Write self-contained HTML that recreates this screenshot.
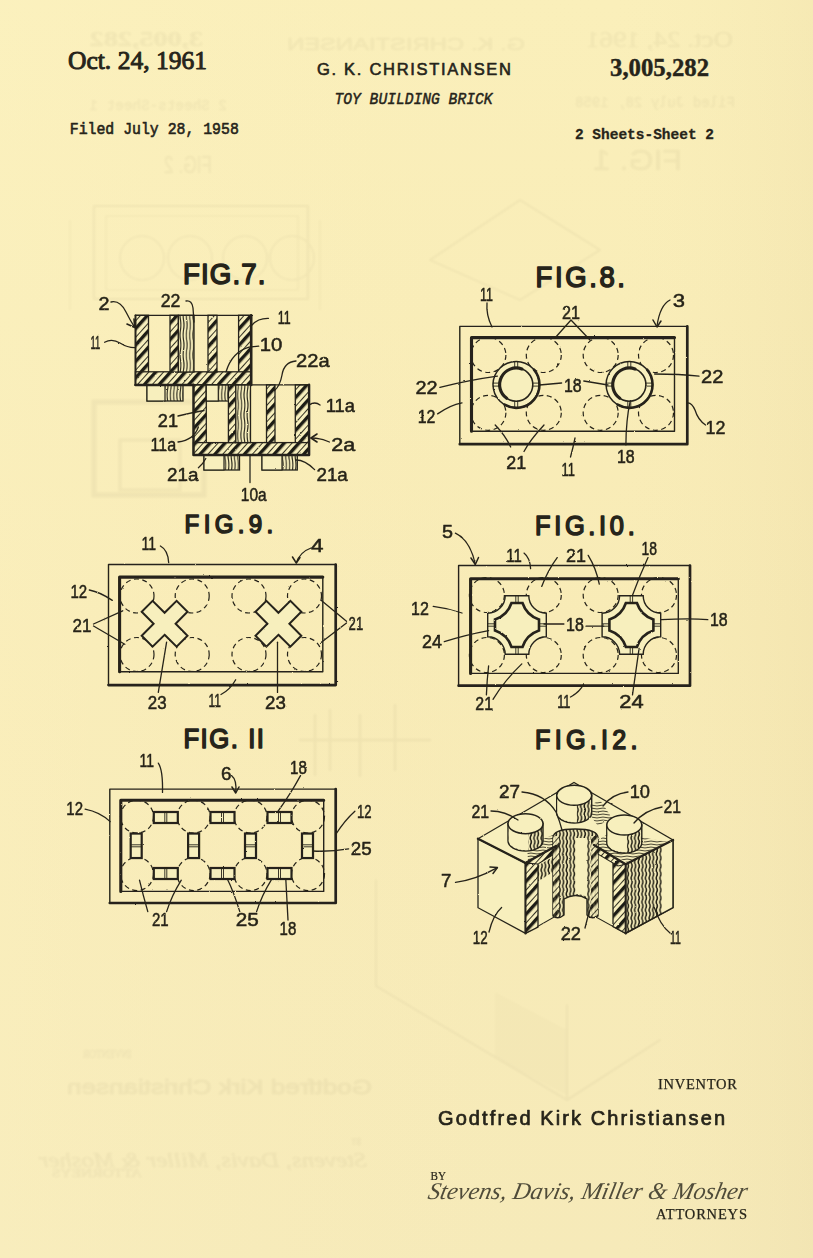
<!DOCTYPE html>
<html><head><meta charset="utf-8"><title>Toy Building Brick</title>
<style>html,body{margin:0;padding:0;background:#f8f0bd;overflow:hidden}svg{display:block}</style>
</head><body>
<svg width="813" height="1258" viewBox="0 0 813 1258">
<defs>
<linearGradient id="bg" x1="0" y1="0" x2="0" y2="1">
<stop offset="0" stop-color="#faefba"/>
<stop offset="0.5" stop-color="#f8ebb6"/>
<stop offset="1" stop-color="#f6eab9"/>
</linearGradient>
<linearGradient id="bgr" x1="0" y1="0" x2="1" y2="0">
<stop offset="0" stop-color="#fff6c8" stop-opacity="0.25"/>
<stop offset="0.75" stop-color="#f8ebb6" stop-opacity="0"/>
<stop offset="1" stop-color="#d8c088" stop-opacity="0.12"/>
</linearGradient>
<pattern id="hatch" width="11" height="11" patternUnits="userSpaceOnUse" patternTransform="rotate(42)">
<rect width="11" height="11" fill="#f7efbd"/>
<rect x="0" y="0" width="3.4" height="11" fill="#1e1c12"/>
<rect x="7" y="0" width="0.9" height="11" fill="#1e1c12"/>
</pattern>
<pattern id="wavy" width="3.2" height="20" patternUnits="userSpaceOnUse">
<rect width="3.2" height="20" fill="#f4ecba"/>
<path d="M1.2,0 Q2,5 1.2,10 Q0.4,15 1.2,20" stroke="#1e1c12" stroke-width="1" fill="none"/>
</pattern>
<pattern id="wavyd" width="3.6" height="8" patternUnits="userSpaceOnUse">
<rect width="3.6" height="8" fill="#f4ebb9"/>
<path d="M1.6,0 Q2.6,2 1.6,4 Q0.6,6 1.6,8" stroke="#1e1c12" stroke-width="1.5" fill="none"/>
</pattern>
<pattern id="hlines" width="12" height="3" patternUnits="userSpaceOnUse">
<rect width="12" height="3" fill="#f4ecba"/>
<path d="M0,1.5 Q3,0.6 6,1.5 Q9,2.4 12,1.5" stroke="#1e1c12" stroke-width="0.8" fill="none"/>
</pattern>
<filter id="gblur"><feGaussianBlur stdDeviation="0.8"/></filter>
<filter id="rough" x="-5%" y="-5%" width="110%" height="110%">
<feTurbulence type="fractalNoise" baseFrequency="0.35" numOctaves="2" seed="3" result="n"/>
<feDisplacementMap in="SourceGraphic" in2="n" scale="1.6" xChannelSelector="R" yChannelSelector="G"/>
</filter>
</defs>
<rect x="0" y="0" width="813" height="1258" fill="url(#bg)"/>
<rect x="0" y="0" width="813" height="1258" fill="url(#bgr)"/>
<text x="68" y="68.5" font-family="Liberation Serif" font-size="25" font-weight="normal" font-style="normal" fill="#26241a" text-anchor="start" textLength="139" lengthAdjust="spacingAndGlyphs" stroke="#26241a" stroke-width="0.9" stroke-linejoin="round" >Oct. 24, 1961</text>
<text x="317" y="75" font-family="Liberation Sans" font-size="16.5" font-weight="normal" font-style="normal" fill="#26241a" text-anchor="start" textLength="194" lengthAdjust="spacing" stroke="#26241a" stroke-width="0.6" stroke-linejoin="round" >G. K. CHRISTIANSEN</text>
<text x="610" y="75.6" font-family="Liberation Serif" font-size="25.5" font-weight="bold" font-style="normal" fill="#26241a" text-anchor="start" textLength="99" lengthAdjust="spacingAndGlyphs" stroke="#26241a" stroke-width="0.4" stroke-linejoin="round" >3,005,282</text>
<text x="334.5" y="104" font-family="Liberation Mono" font-size="16" font-weight="normal" font-style="italic" fill="#26241a" text-anchor="start" textLength="158" lengthAdjust="spacingAndGlyphs" stroke="#26241a" stroke-width="0.5" stroke-linejoin="round" >TOY BUILDING BRICK</text>
<text x="69.8" y="134.1" font-family="Liberation Mono" font-size="16" font-weight="normal" font-style="normal" fill="#26241a" text-anchor="start" textLength="169" lengthAdjust="spacingAndGlyphs" stroke="#26241a" stroke-width="0.6" stroke-linejoin="round" >Filed July 28, 1958</text>
<text x="575" y="138.6" font-family="Liberation Mono" font-size="15.5" font-weight="bold" font-style="normal" fill="#26241a" text-anchor="start" textLength="139" lengthAdjust="spacingAndGlyphs" stroke="#26241a" stroke-width="0.3" stroke-linejoin="round" >2 Sheets-Sheet 2</text>
<text x="183" y="284.1" font-family="Liberation Sans" font-size="27.7" font-weight="normal" font-style="normal" fill="#26241a" text-anchor="start" textLength="82.4" lengthAdjust="spacing" stroke="#26241a" stroke-width="1.5" stroke-linejoin="round" transform="translate(183,284.1) scale(1,1.087) translate(-183,-284.1)">FIG.7.</text>
<text x="535.5" y="287.5" font-family="Liberation Sans" font-size="27.5" font-weight="normal" font-style="normal" fill="#26241a" text-anchor="start" textLength="89.5" lengthAdjust="spacing" stroke="#26241a" stroke-width="1.5" stroke-linejoin="round" transform="translate(535.5,287.5) scale(1,1.087) translate(-535.5,-287.5)">FIG.8.</text>
<text x="184.6" y="533.5" font-family="Liberation Sans" font-size="24.1" font-weight="normal" font-style="normal" fill="#26241a" text-anchor="start" textLength="88.7" lengthAdjust="spacing" stroke="#26241a" stroke-width="1.5" stroke-linejoin="round" transform="translate(184.6,533.5) scale(1,1.087) translate(-184.6,-533.5)">FIG.9.</text>
<text x="535" y="535.4" font-family="Liberation Sans" font-size="25.4" font-weight="normal" font-style="normal" fill="#26241a" text-anchor="start" textLength="99.7" lengthAdjust="spacing" stroke="#26241a" stroke-width="1.5" stroke-linejoin="round" transform="translate(535,535.4) scale(1,1.087) translate(-535,-535.4)">FIG.I0.</text>
<text x="183.4" y="747.6" font-family="Liberation Sans" font-size="25.7" font-weight="normal" font-style="normal" fill="#26241a" text-anchor="start" textLength="80.6" lengthAdjust="spacing" stroke="#26241a" stroke-width="1.5" stroke-linejoin="round" transform="translate(183.4,747.6) scale(1,1.087) translate(-183.4,-747.6)">FIG. II</text>
<text x="535" y="749.3" font-family="Liberation Sans" font-size="25.2" font-weight="normal" font-style="normal" fill="#26241a" text-anchor="start" textLength="102.5" lengthAdjust="spacing" stroke="#26241a" stroke-width="1.5" stroke-linejoin="round" transform="translate(535,749.3) scale(1,1.087) translate(-535,-749.3)">FIG.I2.</text>
<g opacity="0.04" filter="url(#gblur)">
<g transform="translate(1319,0) scale(-1,1)">
<text x="586" y="47" font-family="Liberation Serif" font-size="24" font-weight="normal" font-style="normal" fill="#26241a" text-anchor="start" textLength="147" lengthAdjust="spacingAndGlyphs" stroke="#26241a" stroke-width="0.5" stroke-linejoin="round" >Oct. 24, 1961</text>
</g>
<g transform="translate(292.5,0) scale(-1,1)">
<text x="89.5" y="46" font-family="Liberation Serif" font-size="22" font-weight="bold" font-style="normal" fill="#26241a" text-anchor="start" textLength="113.5" lengthAdjust="spacingAndGlyphs" stroke="#26241a" stroke-width="0.5" stroke-linejoin="round" >3,005,282</text>
</g>
<g transform="translate(812,0) scale(-1,1)">
<text x="287" y="50" font-family="Liberation Sans" font-size="16" font-weight="normal" font-style="normal" fill="#26241a" text-anchor="start" textLength="238" lengthAdjust="spacingAndGlyphs" stroke="#26241a" stroke-width="0.5" stroke-linejoin="round" >G. K. CHRISTIANSEN</text>
</g>
<g transform="translate(1310,0) scale(-1,1)">
<text x="575" y="107" font-family="Liberation Mono" font-size="15" font-weight="normal" font-style="normal" fill="#26241a" text-anchor="start" textLength="160" lengthAdjust="spacingAndGlyphs" stroke="#26241a" stroke-width="0.5" stroke-linejoin="round" >Filed July 28, 1958</text>
</g>
<g transform="translate(316.5,0) scale(-1,1)">
<text x="89.5" y="110" font-family="Liberation Mono" font-size="14" font-weight="normal" font-style="normal" fill="#26241a" text-anchor="start" textLength="137.5" lengthAdjust="spacingAndGlyphs" stroke="#26241a" stroke-width="0.5" stroke-linejoin="round" >2 Sheets-Sheet 1</text>
</g>
<g transform="translate(376,0) scale(-1,1)">
<text x="164" y="173" font-family="Liberation Sans" font-size="24" font-weight="normal" font-style="normal" fill="#26241a" text-anchor="start" textLength="48" lengthAdjust="spacingAndGlyphs" stroke="#26241a" stroke-width="0.5" stroke-linejoin="round" >FIG. 2</text>
</g>
<g transform="translate(1275,0) scale(-1,1)">
<text x="593" y="170" font-family="Liberation Sans" font-size="30" font-weight="normal" font-style="normal" fill="#26241a" text-anchor="start" textLength="89" lengthAdjust="spacingAndGlyphs" stroke="#26241a" stroke-width="0.5" stroke-linejoin="round" >FIG. 1</text>
</g>
<g transform="translate(214.29999999999998,0) scale(-1,1)">
<text x="82.6" y="1058.4" font-family="Liberation Serif" font-size="13" font-weight="normal" font-style="normal" fill="#26241a" text-anchor="start" textLength="49.1" lengthAdjust="spacingAndGlyphs" stroke="#26241a" stroke-width="0.5" stroke-linejoin="round" >INVENTOR</text>
</g>
<g transform="translate(439,0) scale(-1,1)">
<text x="67" y="1094" font-family="Liberation Sans" font-size="20" font-weight="normal" font-style="normal" fill="#26241a" text-anchor="start" textLength="305" lengthAdjust="spacingAndGlyphs" stroke="#26241a" stroke-width="0.9" stroke-linejoin="round" >Godtfred Kirk Christiansen</text>
</g>
<g transform="translate(712,0) scale(-1,1)">
<text x="351" y="1144.7" font-family="Liberation Serif" font-size="11" font-weight="normal" font-style="normal" fill="#26241a" text-anchor="start" textLength="10" lengthAdjust="spacingAndGlyphs" stroke="#26241a" stroke-width="0.5" stroke-linejoin="round" >BY</text>
</g>
<g transform="translate(405.4,0) scale(-1,1)">
<text x="38.7" y="1167" font-family="Liberation Serif" font-size="22" font-weight="normal" font-style="italic" fill="#26241a" text-anchor="start" textLength="328.0" lengthAdjust="spacingAndGlyphs" stroke="#26241a" stroke-width="0.5" stroke-linejoin="round" >Stevens, Davis, Miller &amp; Mosher</text>
</g>
<g transform="translate(193.7,0) scale(-1,1)">
<text x="51.7" y="1177" font-family="Liberation Serif" font-size="12" font-weight="normal" font-style="normal" fill="#26241a" text-anchor="start" textLength="90.3" lengthAdjust="spacingAndGlyphs" stroke="#26241a" stroke-width="0.5" stroke-linejoin="round" >ATTORNEYS</text>
</g>
<path d="M94,206 L308,206 L308,299 L94,299 Z" stroke="#26241a" stroke-width="2.2" fill="none" stroke-linecap="round" stroke-linejoin="round" />
<path d="M106,216 L298,216 L298,290 L106,290 Z" stroke="#26241a" stroke-width="1.2" fill="none" stroke-linecap="round" stroke-linejoin="round" />
<circle cx="142" cy="258" r="22" fill="none" stroke="#26241a" stroke-width="1.6"/>
<circle cx="190" cy="258" r="22" fill="none" stroke="#26241a" stroke-width="1.6"/>
<circle cx="245" cy="258" r="22" fill="none" stroke="#26241a" stroke-width="1.6"/>
<circle cx="292" cy="258" r="22" fill="none" stroke="#26241a" stroke-width="1.6"/>
<path d="M70,220 L70,310 M320,220 L320,310" stroke="#26241a" stroke-width="1.2" fill="none" stroke-linecap="round" stroke-linejoin="round" />
<rect x="94" y="402" width="110" height="93" fill="none" stroke="#26241a" stroke-width="5"/>
<rect x="120" y="440" width="60" height="50" fill="none" stroke="#26241a" stroke-width="3"/>
<path d="M430,260 L520,200 L600,250 L520,300 Z" stroke="#26241a" stroke-width="1.8" fill="none" stroke-linecap="round" stroke-linejoin="round" />
<path d="M376,986 L567,1100 L660,1040 M567,1005 L567,1100 M376,880 L376,986" stroke="#26241a" stroke-width="1.8" fill="none" stroke-linecap="round" stroke-linejoin="round" />
<polygon points="495,992 567,1030 567,1095 495,1058" fill="#26241a" opacity="0.35"/>
<path d="M315,715 L315,775 M330,710 L330,770 M360,715 L360,776 M395,705 L395,770 M300,740 L430,740" stroke="#26241a" stroke-width="2.5" fill="none" stroke-linecap="round" stroke-linejoin="round" />
</g>
<g filter="url(#rough)">
<rect x="135.5" y="315.3" width="13.0" height="69.69999999999999" fill="url(#hatch)" stroke="#26241a" stroke-width="1.3"/>
<rect x="238.6" y="315.3" width="12.599999999999994" height="69.69999999999999" fill="url(#hatch)" stroke="#26241a" stroke-width="1.3"/>
<rect x="135.5" y="371.8" width="115.69999999999999" height="13.199999999999989" fill="url(#hatch)" stroke="#26241a" stroke-width="1.3"/>
<rect x="170" y="315.3" width="8.400000000000006" height="56.69999999999999" fill="url(#hatch)" stroke="#26241a" stroke-width="1.3"/>
<rect x="178.4" y="315.3" width="15.599999999999994" height="56.69999999999999" fill="url(#wavy)" stroke="#26241a" stroke-width="1.3"/>
<rect x="208" y="315.3" width="9" height="56.69999999999999" fill="url(#hatch)" stroke="#26241a" stroke-width="1.3"/>
<path d="M135.5,315.3 L251.2,315.3" stroke="#26241a" stroke-width="1.3" fill="none" stroke-linecap="round" stroke-linejoin="round" />
<rect x="147" y="385" width="36" height="16" fill="url(#wavy)" stroke="#26241a" stroke-width="1.3"/>
<rect x="147" y="385" width="18" height="16" fill="#f7efbd" stroke="#26241a" stroke-width="1.2"/>
<rect x="193.5" y="384.8" width="12.800000000000011" height="70.19999999999999" fill="url(#hatch)" stroke="#26241a" stroke-width="1.3"/>
<rect x="295.3" y="384.8" width="13.800000000000011" height="70.19999999999999" fill="url(#hatch)" stroke="#26241a" stroke-width="1.3"/>
<rect x="193.5" y="442.6" width="115.60000000000002" height="12.399999999999977" fill="url(#hatch)" stroke="#26241a" stroke-width="1.3"/>
<rect x="206.3" y="384.8" width="22.099999999999994" height="16.19999999999999" fill="url(#wavy)" stroke="#26241a" stroke-width="1.3"/>
<rect x="206.3" y="384.8" width="12" height="16.2" fill="#f7efbd" stroke="#26241a" stroke-width="1.2"/>
<rect x="228.4" y="384.8" width="7.400000000000006" height="57.80000000000001" fill="url(#hatch)" stroke="#26241a" stroke-width="1.3"/>
<rect x="235.8" y="384.8" width="14.699999999999989" height="57.80000000000001" fill="url(#wavy)" stroke="#26241a" stroke-width="1.3"/>
<rect x="266.5" y="384.8" width="8.5" height="57.80000000000001" fill="url(#hatch)" stroke="#26241a" stroke-width="1.3"/>
<path d="M193.5,384.8 L309.1,384.8" stroke="#26241a" stroke-width="1.3" fill="none" stroke-linecap="round" stroke-linejoin="round" />
<rect x="204" y="455" width="35.5" height="15" fill="url(#wavy)" stroke="#26241a" stroke-width="1.3"/>
<rect x="204" y="455" width="20" height="15" fill="#f7efbd" stroke="#26241a" stroke-width="1.2"/>
<rect x="262" y="455" width="35.30000000000001" height="15" fill="url(#wavy)" stroke="#26241a" stroke-width="1.3"/>
<rect x="262" y="455" width="20" height="15" fill="#f7efbd" stroke="#26241a" stroke-width="1.2"/>
<path d="M251.2,315.3 L251.2,385 M135.5,385 L193.5,385" stroke="#26241a" stroke-width="2.6" fill="none" stroke-linecap="round" stroke-linejoin="round" />
<path d="M309.1,384.8 L309.1,455 L193.5,455 L193.5,384.8" stroke="#26241a" stroke-width="2.4" fill="none" stroke-linecap="round" stroke-linejoin="round" />
<path d="M135.5,315.3 L135.5,385" stroke="#26241a" stroke-width="1.8" fill="none" stroke-linecap="round" stroke-linejoin="round" />
<text x="98.5" y="309.6" font-family="Liberation Sans" font-size="18" font-weight="normal" font-style="normal" fill="#26241a" text-anchor="start" textLength="11.0" lengthAdjust="spacingAndGlyphs" stroke="#26241a" stroke-width="0.5" stroke-linejoin="round" >2</text>
<path d="M111,302 Q120,300 126,312 Q130,320 134.7,327.4" stroke="#26241a" stroke-width="1.3" fill="none" stroke-linecap="round" stroke-linejoin="round" />
<path d="M127,324 L134.7,327.4 L134,319" stroke="#26241a" stroke-width="1.6" fill="none" stroke-linecap="round" stroke-linejoin="round" />
<text x="160.7" y="306.7" font-family="Liberation Sans" font-size="18" font-weight="normal" font-style="normal" fill="#26241a" text-anchor="start" textLength="19.7" lengthAdjust="spacingAndGlyphs" stroke="#26241a" stroke-width="0.5" stroke-linejoin="round" >22</text>
<path d="M186,301 Q192,300 193,308 L194,322" stroke="#26241a" stroke-width="1.3" fill="none" stroke-linecap="round" stroke-linejoin="round" />
<text x="90.5" y="349" font-family="Liberation Sans" font-size="18" font-weight="normal" font-style="normal" fill="#26241a" text-anchor="start" textLength="9.8" lengthAdjust="spacingAndGlyphs" stroke="#26241a" stroke-width="0.5" stroke-linejoin="round" >11</text>
<path d="M104.6,342.2 Q112,338 120,343 Q128,348 135.3,347.7" stroke="#26241a" stroke-width="1.3" fill="none" stroke-linecap="round" stroke-linejoin="round" />
<text x="277.7" y="323.8" font-family="Liberation Sans" font-size="18" font-weight="normal" font-style="normal" fill="#26241a" text-anchor="start" textLength="12.9" lengthAdjust="spacingAndGlyphs" stroke="#26241a" stroke-width="0.5" stroke-linejoin="round" >11</text>
<path d="M268.5,318.3 Q258,318 252,325" stroke="#26241a" stroke-width="1.3" fill="none" stroke-linecap="round" stroke-linejoin="round" />
<text x="259.7" y="351.2" font-family="Liberation Sans" font-size="18" font-weight="normal" font-style="normal" fill="#26241a" text-anchor="start" textLength="22.6" lengthAdjust="spacingAndGlyphs" stroke="#26241a" stroke-width="0.5" stroke-linejoin="round" >10</text>
<path d="M258.7,346.2 L249,347.2 Q232,352 226,372" stroke="#26241a" stroke-width="1.3" fill="none" stroke-linecap="round" stroke-linejoin="round" />
<text x="296" y="367" font-family="Liberation Sans" font-size="18" font-weight="normal" font-style="normal" fill="#26241a" text-anchor="start" textLength="33.6" lengthAdjust="spacingAndGlyphs" stroke="#26241a" stroke-width="0.5" stroke-linejoin="round" >22a</text>
<path d="M296,361 Q284,362 282,375 Q280,386 274.5,390.5" stroke="#26241a" stroke-width="1.3" fill="none" stroke-linecap="round" stroke-linejoin="round" />
<text x="325.7" y="412.4" font-family="Liberation Sans" font-size="18" font-weight="normal" font-style="normal" fill="#26241a" text-anchor="start" textLength="29.3" lengthAdjust="spacingAndGlyphs" stroke="#26241a" stroke-width="0.5" stroke-linejoin="round" >11a</text>
<path d="M320,405 Q315,401 309,405" stroke="#26241a" stroke-width="1.3" fill="none" stroke-linecap="round" stroke-linejoin="round" />
<text x="157.8" y="427" font-family="Liberation Sans" font-size="18" font-weight="normal" font-style="normal" fill="#26241a" text-anchor="start" textLength="20.2" lengthAdjust="spacingAndGlyphs" stroke="#26241a" stroke-width="0.5" stroke-linejoin="round" >21</text>
<path d="M178,416 Q190,413 204,410.5" stroke="#26241a" stroke-width="1.3" fill="none" stroke-linecap="round" stroke-linejoin="round" />
<text x="150.4" y="451" font-family="Liberation Sans" font-size="18" font-weight="normal" font-style="normal" fill="#26241a" text-anchor="start" textLength="25.8" lengthAdjust="spacingAndGlyphs" stroke="#26241a" stroke-width="0.5" stroke-linejoin="round" >11a</text>
<path d="M178,442 Q194,440 198.4,427" stroke="#26241a" stroke-width="1.3" fill="none" stroke-linecap="round" stroke-linejoin="round" />
<text x="331.2" y="451" font-family="Liberation Sans" font-size="18" font-weight="normal" font-style="normal" fill="#26241a" text-anchor="start" textLength="24.0" lengthAdjust="spacingAndGlyphs" stroke="#26241a" stroke-width="0.5" stroke-linejoin="round" >2a</text>
<path d="M329.4,442 Q320,438 311,438" stroke="#26241a" stroke-width="1.3" fill="none" stroke-linecap="round" stroke-linejoin="round" />
<path d="M317,434 L311,438 L317,442" stroke="#26241a" stroke-width="1.6" fill="none" stroke-linecap="round" stroke-linejoin="round" />
<text x="167" y="480.6" font-family="Liberation Sans" font-size="18" font-weight="normal" font-style="normal" fill="#26241a" text-anchor="start" textLength="31.4" lengthAdjust="spacingAndGlyphs" stroke="#26241a" stroke-width="0.5" stroke-linejoin="round" >21a</text>
<path d="M198.4,467.7 Q203,464 205.8,458.5" stroke="#26241a" stroke-width="1.3" fill="none" stroke-linecap="round" stroke-linejoin="round" />
<text x="240.8" y="501" font-family="Liberation Sans" font-size="18" font-weight="normal" font-style="normal" fill="#26241a" text-anchor="start" textLength="25.8" lengthAdjust="spacingAndGlyphs" stroke="#26241a" stroke-width="0.5" stroke-linejoin="round" >10a</text>
<path d="M250,482.5 L250,454.8" stroke="#26241a" stroke-width="1.3" fill="none" stroke-linecap="round" stroke-linejoin="round" />
<text x="316.5" y="480.6" font-family="Liberation Sans" font-size="18" font-weight="normal" font-style="normal" fill="#26241a" text-anchor="start" textLength="31.3" lengthAdjust="spacingAndGlyphs" stroke="#26241a" stroke-width="0.5" stroke-linejoin="round" >21a</text>
<path d="M314.6,469.6 Q305,460 296,460" stroke="#26241a" stroke-width="1.3" fill="none" stroke-linecap="round" stroke-linejoin="round" />
<circle cx="488.4" cy="355" r="17.5" fill="none" stroke="#26241a" stroke-width="1.2" stroke-dasharray="5 3.5"/>
<circle cx="488.4" cy="412.8" r="17.5" fill="none" stroke="#26241a" stroke-width="1.2" stroke-dasharray="5 3.5"/>
<circle cx="543.8" cy="355" r="17.5" fill="none" stroke="#26241a" stroke-width="1.2" stroke-dasharray="5 3.5"/>
<circle cx="543.8" cy="412.8" r="17.5" fill="none" stroke="#26241a" stroke-width="1.2" stroke-dasharray="5 3.5"/>
<circle cx="600.7" cy="355" r="17.5" fill="none" stroke="#26241a" stroke-width="1.2" stroke-dasharray="5 3.5"/>
<circle cx="600.7" cy="412.8" r="17.5" fill="none" stroke="#26241a" stroke-width="1.2" stroke-dasharray="5 3.5"/>
<circle cx="656" cy="355" r="17.5" fill="none" stroke="#26241a" stroke-width="1.2" stroke-dasharray="5 3.5"/>
<circle cx="656" cy="412.8" r="17.5" fill="none" stroke="#26241a" stroke-width="1.2" stroke-dasharray="5 3.5"/>
<path d="M459.8,444.2 L459.8,326.4 L687.3,326.4" stroke="#26241a" stroke-width="1.4" fill="none" stroke-linecap="round" stroke-linejoin="round" />
<path d="M687.3,326.4 L687.3,444.2 L459.8,444.2" stroke="#26241a" stroke-width="2.7" fill="none" stroke-linecap="round" stroke-linejoin="round" />
<path d="M471.5,431.2 L471.5,337.6 L674.5,337.6" stroke="#26241a" stroke-width="3.1" fill="none" stroke-linecap="round" stroke-linejoin="round" />
<path d="M674.5,337.6 L674.5,431.2 L471.5,431.2" stroke="#26241a" stroke-width="1.4" fill="none" stroke-linecap="round" stroke-linejoin="round" />
<circle cx="516.2" cy="384.6" r="23.2" fill="#f7efbd" stroke="#26241a" stroke-width="1.5"/>
<circle cx="516.2" cy="384.6" r="16.6" fill="#f7efbd" stroke="#26241a" stroke-width="1.6"/>
<path d="M506.7,398.2 A16.6,16.6 0 0 1 521.9,369.0" stroke="#26241a" stroke-width="3.2" fill="none" stroke-linecap="round" stroke-linejoin="round" />
<path d="M534.0,369.7 A23.2,23.2 0 0 1 504.6,404.7" stroke="#26241a" stroke-width="2.6" fill="none" stroke-linecap="round" stroke-linejoin="round" />
<path d="M532.8,383.1 L539.4,383.1" stroke="#26241a" stroke-width="0.9" fill="none" stroke-linecap="round" stroke-linejoin="round" />
<path d="M532.8,386.1 L539.4,386.1" stroke="#26241a" stroke-width="0.9" fill="none" stroke-linecap="round" stroke-linejoin="round" />
<path d="M517.7,401.2 L517.7,407.8" stroke="#26241a" stroke-width="0.9" fill="none" stroke-linecap="round" stroke-linejoin="round" />
<path d="M514.7,401.2 L514.7,407.8" stroke="#26241a" stroke-width="0.9" fill="none" stroke-linecap="round" stroke-linejoin="round" />
<path d="M499.6,386.1 L493.0,386.1" stroke="#26241a" stroke-width="0.9" fill="none" stroke-linecap="round" stroke-linejoin="round" />
<path d="M499.6,383.1 L493.0,383.1" stroke="#26241a" stroke-width="0.9" fill="none" stroke-linecap="round" stroke-linejoin="round" />
<path d="M514.7,368.0 L514.7,361.4" stroke="#26241a" stroke-width="0.9" fill="none" stroke-linecap="round" stroke-linejoin="round" />
<path d="M517.7,368.0 L517.7,361.4" stroke="#26241a" stroke-width="0.9" fill="none" stroke-linecap="round" stroke-linejoin="round" />
<circle cx="629.3" cy="384.6" r="23.2" fill="#f7efbd" stroke="#26241a" stroke-width="1.5"/>
<circle cx="629.3" cy="384.6" r="16.6" fill="#f7efbd" stroke="#26241a" stroke-width="1.6"/>
<path d="M619.8,398.2 A16.6,16.6 0 0 1 635.0,369.0" stroke="#26241a" stroke-width="3.2" fill="none" stroke-linecap="round" stroke-linejoin="round" />
<path d="M647.1,369.7 A23.2,23.2 0 0 1 617.7,404.7" stroke="#26241a" stroke-width="2.6" fill="none" stroke-linecap="round" stroke-linejoin="round" />
<path d="M645.9,383.1 L652.5,383.1" stroke="#26241a" stroke-width="0.9" fill="none" stroke-linecap="round" stroke-linejoin="round" />
<path d="M645.9,386.1 L652.5,386.1" stroke="#26241a" stroke-width="0.9" fill="none" stroke-linecap="round" stroke-linejoin="round" />
<path d="M630.8,401.2 L630.8,407.8" stroke="#26241a" stroke-width="0.9" fill="none" stroke-linecap="round" stroke-linejoin="round" />
<path d="M627.8,401.2 L627.8,407.8" stroke="#26241a" stroke-width="0.9" fill="none" stroke-linecap="round" stroke-linejoin="round" />
<path d="M612.7,386.1 L606.1,386.1" stroke="#26241a" stroke-width="0.9" fill="none" stroke-linecap="round" stroke-linejoin="round" />
<path d="M612.7,383.1 L606.1,383.1" stroke="#26241a" stroke-width="0.9" fill="none" stroke-linecap="round" stroke-linejoin="round" />
<path d="M627.8,368.0 L627.8,361.4" stroke="#26241a" stroke-width="0.9" fill="none" stroke-linecap="round" stroke-linejoin="round" />
<path d="M630.8,368.0 L630.8,361.4" stroke="#26241a" stroke-width="0.9" fill="none" stroke-linecap="round" stroke-linejoin="round" />
<text x="480" y="301" font-family="Liberation Sans" font-size="18" font-weight="normal" font-style="normal" fill="#26241a" text-anchor="start" textLength="13" lengthAdjust="spacingAndGlyphs" stroke="#26241a" stroke-width="0.5" stroke-linejoin="round" >11</text>
<path d="M487,303 Q486,315 492,327" stroke="#26241a" stroke-width="1.3" fill="none" stroke-linecap="round" stroke-linejoin="round" />
<text x="562" y="318.5" font-family="Liberation Sans" font-size="18" font-weight="normal" font-style="normal" fill="#26241a" text-anchor="start" textLength="18" lengthAdjust="spacingAndGlyphs" stroke="#26241a" stroke-width="0.5" stroke-linejoin="round" >21</text>
<path d="M571,320 L555,338 M571,320 L590,340" stroke="#26241a" stroke-width="1.3" fill="none" stroke-linecap="round" stroke-linejoin="round" />
<text x="672.7" y="306.7" font-family="Liberation Sans" font-size="18" font-weight="normal" font-style="normal" fill="#26241a" text-anchor="start" textLength="12.3" lengthAdjust="spacingAndGlyphs" stroke="#26241a" stroke-width="0.5" stroke-linejoin="round" >3</text>
<path d="M670,300 Q660,305 657,326" stroke="#26241a" stroke-width="1.3" fill="none" stroke-linecap="round" stroke-linejoin="round" />
<path d="M653,320 L657,327 L661,321" stroke="#26241a" stroke-width="1.5" fill="none" stroke-linecap="round" stroke-linejoin="round" />
<text x="415.5" y="394" font-family="Liberation Sans" font-size="18" font-weight="normal" font-style="normal" fill="#26241a" text-anchor="start" textLength="22.1" lengthAdjust="spacingAndGlyphs" stroke="#26241a" stroke-width="0.5" stroke-linejoin="round" >22</text>
<path d="M439.9,387.3 Q470,380 497.4,376.2" stroke="#26241a" stroke-width="1.3" fill="none" stroke-linecap="round" stroke-linejoin="round" />
<text x="563.9" y="391.7" font-family="Liberation Sans" font-size="18" font-weight="normal" font-style="normal" fill="#26241a" text-anchor="start" textLength="17.7" lengthAdjust="spacingAndGlyphs" stroke="#26241a" stroke-width="0.5" stroke-linejoin="round" >18</text>
<path d="M561.6,383 L539.5,385 M583.8,381 L608,385" stroke="#26241a" stroke-width="1.3" fill="none" stroke-linecap="round" stroke-linejoin="round" />
<text x="701" y="382.9" font-family="Liberation Sans" font-size="18" font-weight="normal" font-style="normal" fill="#26241a" text-anchor="start" textLength="22.3" lengthAdjust="spacingAndGlyphs" stroke="#26241a" stroke-width="0.5" stroke-linejoin="round" >22</text>
<path d="M699,376.2 Q680,374 654.6,374" stroke="#26241a" stroke-width="1.3" fill="none" stroke-linecap="round" stroke-linejoin="round" />
<text x="417.7" y="422.7" font-family="Liberation Sans" font-size="18" font-weight="normal" font-style="normal" fill="#26241a" text-anchor="start" textLength="17.7" lengthAdjust="spacingAndGlyphs" stroke="#26241a" stroke-width="0.5" stroke-linejoin="round" >12</text>
<path d="M437.6,413.9 Q450,405 462,402.8" stroke="#26241a" stroke-width="1.3" fill="none" stroke-linecap="round" stroke-linejoin="round" />
<text x="705.6" y="433.8" font-family="Liberation Sans" font-size="18" font-weight="normal" font-style="normal" fill="#26241a" text-anchor="start" textLength="19.9" lengthAdjust="spacingAndGlyphs" stroke="#26241a" stroke-width="0.5" stroke-linejoin="round" >12</text>
<path d="M705.6,425 Q698,420 695,410 Q692,403 687.9,402.8" stroke="#26241a" stroke-width="1.3" fill="none" stroke-linecap="round" stroke-linejoin="round" />
<text x="506.3" y="469.2" font-family="Liberation Sans" font-size="18" font-weight="normal" font-style="normal" fill="#26241a" text-anchor="start" textLength="19.9" lengthAdjust="spacingAndGlyphs" stroke="#26241a" stroke-width="0.5" stroke-linejoin="round" >21</text>
<path d="M510.7,447 Q505,435 495.2,425 M524,451.5 Q530,440 544,425" stroke="#26241a" stroke-width="1.3" fill="none" stroke-linecap="round" stroke-linejoin="round" />
<text x="561.6" y="475.9" font-family="Liberation Sans" font-size="18" font-weight="normal" font-style="normal" fill="#26241a" text-anchor="start" textLength="13.4" lengthAdjust="spacingAndGlyphs" stroke="#26241a" stroke-width="0.5" stroke-linejoin="round" >11</text>
<path d="M570.5,457 Q573,448 575,438" stroke="#26241a" stroke-width="1.3" fill="none" stroke-linecap="round" stroke-linejoin="round" />
<text x="617" y="462.6" font-family="Liberation Sans" font-size="18" font-weight="normal" font-style="normal" fill="#26241a" text-anchor="start" textLength="17.7" lengthAdjust="spacingAndGlyphs" stroke="#26241a" stroke-width="0.5" stroke-linejoin="round" >18</text>
<path d="M625.9,444.9 Q626,420 630.3,400.6" stroke="#26241a" stroke-width="1.3" fill="none" stroke-linecap="round" stroke-linejoin="round" />
<circle cx="137" cy="596" r="17" fill="none" stroke="#26241a" stroke-width="1.2" stroke-dasharray="5 3.5"/>
<circle cx="137" cy="654.5" r="17" fill="none" stroke="#26241a" stroke-width="1.2" stroke-dasharray="5 3.5"/>
<circle cx="192.2" cy="596" r="17" fill="none" stroke="#26241a" stroke-width="1.2" stroke-dasharray="5 3.5"/>
<circle cx="192.2" cy="654.5" r="17" fill="none" stroke="#26241a" stroke-width="1.2" stroke-dasharray="5 3.5"/>
<circle cx="249" cy="596" r="17" fill="none" stroke="#26241a" stroke-width="1.2" stroke-dasharray="5 3.5"/>
<circle cx="249" cy="654.5" r="17" fill="none" stroke="#26241a" stroke-width="1.2" stroke-dasharray="5 3.5"/>
<circle cx="304.5" cy="596" r="17" fill="none" stroke="#26241a" stroke-width="1.2" stroke-dasharray="5 3.5"/>
<circle cx="304.5" cy="654.5" r="17" fill="none" stroke="#26241a" stroke-width="1.2" stroke-dasharray="5 3.5"/>
<path d="M108.5,685.1 L108.5,564.5 L335.7,564.5" stroke="#26241a" stroke-width="1.4" fill="none" stroke-linecap="round" stroke-linejoin="round" />
<path d="M335.7,564.5 L335.7,685.1 L108.5,685.1" stroke="#26241a" stroke-width="2.7" fill="none" stroke-linecap="round" stroke-linejoin="round" />
<path d="M119.6,671.8 L119.6,577.1 L322.8,577.1" stroke="#26241a" stroke-width="3.1" fill="none" stroke-linecap="round" stroke-linejoin="round" />
<path d="M322.8,577.1 L322.8,671.8 L119.6,671.8" stroke="#26241a" stroke-width="1.4" fill="none" stroke-linecap="round" stroke-linejoin="round" />
<polygon points="164.6,634.8 176.6,646.7 187.5,635.8 175.6,623.8 187.5,611.8 176.6,600.9 164.6,612.8 152.6,600.9 141.7,611.8 153.6,623.8 141.7,635.8 152.6,646.7" fill="#f7efbd" stroke="#26241a" stroke-width="2.0" stroke-linejoin="miter"/>
<polygon points="278.4,634.8 290.4,646.7 301.3,635.8 289.4,623.8 301.3,611.8 290.4,600.9 278.4,612.8 266.4,600.9 255.5,611.8 267.4,623.8 255.5,635.8 266.4,646.7" fill="#f7efbd" stroke="#26241a" stroke-width="2.0" stroke-linejoin="miter"/>
<text x="141.6" y="550.2" font-family="Liberation Sans" font-size="18" font-weight="normal" font-style="normal" fill="#26241a" text-anchor="start" textLength="14.6" lengthAdjust="spacingAndGlyphs" stroke="#26241a" stroke-width="0.5" stroke-linejoin="round" >11</text>
<path d="M160.4,546 Q168,550 168.7,562.7" stroke="#26241a" stroke-width="1.3" fill="none" stroke-linecap="round" stroke-linejoin="round" />
<text x="311" y="552.3" font-family="Liberation Sans" font-size="18" font-weight="normal" font-style="normal" fill="#26241a" text-anchor="start" textLength="12.5" lengthAdjust="spacingAndGlyphs" stroke="#26241a" stroke-width="0.5" stroke-linejoin="round" >4</text>
<path d="M311,548 Q300,552 296.3,562.7" stroke="#26241a" stroke-width="1.3" fill="none" stroke-linecap="round" stroke-linejoin="round" />
<path d="M292.5,557 L296.3,563 L300,557.5" stroke="#26241a" stroke-width="1.5" fill="none" stroke-linecap="round" stroke-linejoin="round" />
<text x="70.5" y="598.3" font-family="Liberation Sans" font-size="18" font-weight="normal" font-style="normal" fill="#26241a" text-anchor="start" textLength="16.7" lengthAdjust="spacingAndGlyphs" stroke="#26241a" stroke-width="0.5" stroke-linejoin="round" >12</text>
<path d="M89.3,590 Q100,592 112.3,600.4" stroke="#26241a" stroke-width="1.3" fill="none" stroke-linecap="round" stroke-linejoin="round" />
<text x="72.5" y="631.7" font-family="Liberation Sans" font-size="18" font-weight="normal" font-style="normal" fill="#26241a" text-anchor="start" textLength="18.9" lengthAdjust="spacingAndGlyphs" stroke="#26241a" stroke-width="0.5" stroke-linejoin="round" >21</text>
<path d="M93.5,624 L122.7,610.8 M93.5,626 L124.8,644.3" stroke="#26241a" stroke-width="1.3" fill="none" stroke-linecap="round" stroke-linejoin="round" />
<text x="348.6" y="629.7" font-family="Liberation Sans" font-size="18" font-weight="normal" font-style="normal" fill="#26241a" text-anchor="start" textLength="14.6" lengthAdjust="spacingAndGlyphs" stroke="#26241a" stroke-width="0.5" stroke-linejoin="round" >21</text>
<path d="M346.5,621.3 L321.4,600.4 M346.5,623 L321.4,642.2" stroke="#26241a" stroke-width="1.3" fill="none" stroke-linecap="round" stroke-linejoin="round" />
<text x="147.8" y="709" font-family="Liberation Sans" font-size="18" font-weight="normal" font-style="normal" fill="#26241a" text-anchor="start" textLength="18.8" lengthAdjust="spacingAndGlyphs" stroke="#26241a" stroke-width="0.5" stroke-linejoin="round" >23</text>
<path d="M158.3,692.4 L166.6,642.2" stroke="#26241a" stroke-width="1.3" fill="none" stroke-linecap="round" stroke-linejoin="round" />
<text x="208.5" y="707" font-family="Liberation Sans" font-size="18" font-weight="normal" font-style="normal" fill="#26241a" text-anchor="start" textLength="12.5" lengthAdjust="spacingAndGlyphs" stroke="#26241a" stroke-width="0.5" stroke-linejoin="round" >11</text>
<path d="M221,694.5 Q230,690 235.7,679.8" stroke="#26241a" stroke-width="1.3" fill="none" stroke-linecap="round" stroke-linejoin="round" />
<text x="265" y="709" font-family="Liberation Sans" font-size="18" font-weight="normal" font-style="normal" fill="#26241a" text-anchor="start" textLength="20.8" lengthAdjust="spacingAndGlyphs" stroke="#26241a" stroke-width="0.5" stroke-linejoin="round" >23</text>
<path d="M277.5,692.4 L277.5,642.2" stroke="#26241a" stroke-width="1.3" fill="none" stroke-linecap="round" stroke-linejoin="round" />
<circle cx="486.9" cy="595" r="17.5" fill="none" stroke="#26241a" stroke-width="1.2" stroke-dasharray="5 3.5"/>
<circle cx="486.9" cy="655" r="17.5" fill="none" stroke="#26241a" stroke-width="1.2" stroke-dasharray="5 3.5"/>
<circle cx="543.8" cy="595" r="17.5" fill="none" stroke="#26241a" stroke-width="1.2" stroke-dasharray="5 3.5"/>
<circle cx="543.8" cy="655" r="17.5" fill="none" stroke="#26241a" stroke-width="1.2" stroke-dasharray="5 3.5"/>
<circle cx="600.7" cy="595" r="17.5" fill="none" stroke="#26241a" stroke-width="1.2" stroke-dasharray="5 3.5"/>
<circle cx="600.7" cy="655" r="17.5" fill="none" stroke="#26241a" stroke-width="1.2" stroke-dasharray="5 3.5"/>
<circle cx="659" cy="595" r="17.5" fill="none" stroke="#26241a" stroke-width="1.2" stroke-dasharray="5 3.5"/>
<circle cx="659" cy="655" r="17.5" fill="none" stroke="#26241a" stroke-width="1.2" stroke-dasharray="5 3.5"/>
<path d="M458.6,685.7 L458.6,565.5 L690,565.5" stroke="#26241a" stroke-width="1.4" fill="none" stroke-linecap="round" stroke-linejoin="round" />
<path d="M690,565.5 L690,685.7 L458.6,685.7" stroke="#26241a" stroke-width="2.7" fill="none" stroke-linecap="round" stroke-linejoin="round" />
<path d="M470.6,673.4 L470.6,578.7 L678.3,578.7" stroke="#26241a" stroke-width="3.1" fill="none" stroke-linecap="round" stroke-linejoin="round" />
<path d="M678.3,578.7 L678.3,673.4 L470.6,673.4" stroke="#26241a" stroke-width="1.4" fill="none" stroke-linecap="round" stroke-linejoin="round" />
<path d="M505.2,595.7 L528.8,595.7 A17.5,17.5 0 0 0 546.3,613.2 L546.3,636.8 A17.5,17.5 0 0 0 528.8,654.3 L505.2,654.3 A17.5,17.5 0 0 0 487.7,636.8 L487.7,613.2 A17.5,17.5 0 0 0 505.2,595.7 Z" fill="#f7efbd" stroke="#26241a" stroke-width="1.4"/>
<path d="M511.5,603 L522.5,603 A26,26 0 0 0 539,619.5 L539,630.5 A26,26 0 0 0 522.5,647 L511.5,647 A26,26 0 0 0 495,630.5 L495,619.5 A26,26 0 0 0 511.5,603 Z" fill="#f7efbd" stroke="#26241a" stroke-width="2.6"/>
<path d="M515.8,595.9 L515.8,602.9 M518.2,595.9 L518.2,602.9" stroke="#26241a" stroke-width="0.9" fill="none" stroke-linecap="round" stroke-linejoin="round" />
<path d="M515.8,647.1 L515.8,654.1 M518.2,647.1 L518.2,654.1" stroke="#26241a" stroke-width="0.9" fill="none" stroke-linecap="round" stroke-linejoin="round" />
<path d="M487.9,623.8 L494.9,623.8 M487.9,626.2 L494.9,626.2" stroke="#26241a" stroke-width="0.9" fill="none" stroke-linecap="round" stroke-linejoin="round" />
<path d="M539.1,623.8 L546.1,623.8 M539.1,626.2 L546.1,626.2" stroke="#26241a" stroke-width="0.9" fill="none" stroke-linecap="round" stroke-linejoin="round" />
<path d="M619.6,595.7 L643.1999999999999,595.7 A17.5,17.5 0 0 0 660.6999999999999,613.2 L660.6999999999999,636.8 A17.5,17.5 0 0 0 643.1999999999999,654.3 L619.6,654.3 A17.5,17.5 0 0 0 602.1,636.8 L602.1,613.2 A17.5,17.5 0 0 0 619.6,595.7 Z" fill="#f7efbd" stroke="#26241a" stroke-width="1.4"/>
<path d="M625.9,603 L636.9,603 A26,26 0 0 0 653.4,619.5 L653.4,630.5 A26,26 0 0 0 636.9,647 L625.9,647 A26,26 0 0 0 609.4,630.5 L609.4,619.5 A26,26 0 0 0 625.9,603 Z" fill="#f7efbd" stroke="#26241a" stroke-width="2.6"/>
<path d="M630.1999999999999,595.9 L630.1999999999999,602.9 M632.6,595.9 L632.6,602.9" stroke="#26241a" stroke-width="0.9" fill="none" stroke-linecap="round" stroke-linejoin="round" />
<path d="M630.1999999999999,647.1 L630.1999999999999,654.1 M632.6,647.1 L632.6,654.1" stroke="#26241a" stroke-width="0.9" fill="none" stroke-linecap="round" stroke-linejoin="round" />
<path d="M602.3,623.8 L609.3,623.8 M602.3,626.2 L609.3,626.2" stroke="#26241a" stroke-width="0.9" fill="none" stroke-linecap="round" stroke-linejoin="round" />
<path d="M653.5,623.8 L660.5,623.8 M653.5,626.2 L660.5,626.2" stroke="#26241a" stroke-width="0.9" fill="none" stroke-linecap="round" stroke-linejoin="round" />
<text x="442" y="537.6" font-family="Liberation Sans" font-size="18" font-weight="normal" font-style="normal" fill="#26241a" text-anchor="start" textLength="11" lengthAdjust="spacingAndGlyphs" stroke="#26241a" stroke-width="0.5" stroke-linejoin="round" >5</text>
<path d="M455.4,533.2 Q470,540 475.3,564.2" stroke="#26241a" stroke-width="1.3" fill="none" stroke-linecap="round" stroke-linejoin="round" />
<path d="M471,558 L475.3,564.5 L478.5,557.5" stroke="#26241a" stroke-width="1.5" fill="none" stroke-linecap="round" stroke-linejoin="round" />
<text x="506.3" y="562" font-family="Liberation Sans" font-size="18" font-weight="normal" font-style="normal" fill="#26241a" text-anchor="start" textLength="15.5" lengthAdjust="spacingAndGlyphs" stroke="#26241a" stroke-width="0.5" stroke-linejoin="round" >11</text>
<path d="M524,553.1 Q530,558 530.6,568.6" stroke="#26241a" stroke-width="1.3" fill="none" stroke-linecap="round" stroke-linejoin="round" />
<text x="566" y="562" font-family="Liberation Sans" font-size="18" font-weight="normal" font-style="normal" fill="#26241a" text-anchor="start" textLength="20" lengthAdjust="spacingAndGlyphs" stroke="#26241a" stroke-width="0.5" stroke-linejoin="round" >21</text>
<path d="M557.2,557.6 Q548,570 541.7,586.4 M588.2,555.4 Q596,568 599.3,584.1" stroke="#26241a" stroke-width="1.3" fill="none" stroke-linecap="round" stroke-linejoin="round" />
<text x="641.4" y="555.4" font-family="Liberation Sans" font-size="18" font-weight="normal" font-style="normal" fill="#26241a" text-anchor="start" textLength="15.5" lengthAdjust="spacingAndGlyphs" stroke="#26241a" stroke-width="0.5" stroke-linejoin="round" >18</text>
<path d="M648,557.6 Q640,575 632.5,595.2" stroke="#26241a" stroke-width="1.3" fill="none" stroke-linecap="round" stroke-linejoin="round" />
<text x="411" y="615.1" font-family="Liberation Sans" font-size="18" font-weight="normal" font-style="normal" fill="#26241a" text-anchor="start" textLength="17.8" lengthAdjust="spacingAndGlyphs" stroke="#26241a" stroke-width="0.5" stroke-linejoin="round" >12</text>
<path d="M433.2,606.3 Q448,608 462,613" stroke="#26241a" stroke-width="1.3" fill="none" stroke-linecap="round" stroke-linejoin="round" />
<text x="566" y="630.6" font-family="Liberation Sans" font-size="18" font-weight="normal" font-style="normal" fill="#26241a" text-anchor="start" textLength="17.8" lengthAdjust="spacingAndGlyphs" stroke="#26241a" stroke-width="0.5" stroke-linejoin="round" >18</text>
<path d="M563.9,624 L544,624 M586,626.2 L603.7,626.2" stroke="#26241a" stroke-width="1.3" fill="none" stroke-linecap="round" stroke-linejoin="round" />
<text x="710" y="626.2" font-family="Liberation Sans" font-size="18" font-weight="normal" font-style="normal" fill="#26241a" text-anchor="start" textLength="17.7" lengthAdjust="spacingAndGlyphs" stroke="#26241a" stroke-width="0.5" stroke-linejoin="round" >18</text>
<path d="M707.8,619.6 Q690,618 661.3,619.6" stroke="#26241a" stroke-width="1.3" fill="none" stroke-linecap="round" stroke-linejoin="round" />
<text x="422" y="648.4" font-family="Liberation Sans" font-size="18" font-weight="normal" font-style="normal" fill="#26241a" text-anchor="start" textLength="20" lengthAdjust="spacingAndGlyphs" stroke="#26241a" stroke-width="0.5" stroke-linejoin="round" >24</text>
<path d="M444.3,641.7 Q465,635 488.6,630.6" stroke="#26241a" stroke-width="1.3" fill="none" stroke-linecap="round" stroke-linejoin="round" />
<text x="475.3" y="710.4" font-family="Liberation Sans" font-size="18" font-weight="normal" font-style="normal" fill="#26241a" text-anchor="start" textLength="17.7" lengthAdjust="spacingAndGlyphs" stroke="#26241a" stroke-width="0.5" stroke-linejoin="round" >21</text>
<path d="M486.4,694.9 Q487,680 488.6,666 M493,699.3 Q505,680 521.8,663.9" stroke="#26241a" stroke-width="1.3" fill="none" stroke-linecap="round" stroke-linejoin="round" />
<text x="557.2" y="708.1" font-family="Liberation Sans" font-size="18" font-weight="normal" font-style="normal" fill="#26241a" text-anchor="start" textLength="13.3" lengthAdjust="spacingAndGlyphs" stroke="#26241a" stroke-width="0.5" stroke-linejoin="round" >11</text>
<path d="M570.5,697 Q580,692 583.8,683.8" stroke="#26241a" stroke-width="1.3" fill="none" stroke-linecap="round" stroke-linejoin="round" />
<text x="619.2" y="708.1" font-family="Liberation Sans" font-size="18" font-weight="normal" font-style="normal" fill="#26241a" text-anchor="start" textLength="24.4" lengthAdjust="spacingAndGlyphs" stroke="#26241a" stroke-width="0.5" stroke-linejoin="round" >24</text>
<path d="M632.5,694.9 Q636,670 639.1,648.4" stroke="#26241a" stroke-width="1.3" fill="none" stroke-linecap="round" stroke-linejoin="round" />
<circle cx="137" cy="816.6" r="16.5" fill="none" stroke="#26241a" stroke-width="1.2" stroke-dasharray="5 3.5"/>
<circle cx="137" cy="874" r="16.5" fill="none" stroke="#26241a" stroke-width="1.2" stroke-dasharray="5 3.5"/>
<circle cx="193.6" cy="816.6" r="16.5" fill="none" stroke="#26241a" stroke-width="1.2" stroke-dasharray="5 3.5"/>
<circle cx="193.6" cy="874" r="16.5" fill="none" stroke="#26241a" stroke-width="1.2" stroke-dasharray="5 3.5"/>
<circle cx="250.5" cy="816.6" r="16.5" fill="none" stroke="#26241a" stroke-width="1.2" stroke-dasharray="5 3.5"/>
<circle cx="250.5" cy="874" r="16.5" fill="none" stroke="#26241a" stroke-width="1.2" stroke-dasharray="5 3.5"/>
<circle cx="308" cy="816.6" r="16.5" fill="none" stroke="#26241a" stroke-width="1.2" stroke-dasharray="5 3.5"/>
<circle cx="308" cy="874" r="16.5" fill="none" stroke="#26241a" stroke-width="1.2" stroke-dasharray="5 3.5"/>
<path d="M109.8,903 L109.8,789.1 L335.7,789.1" stroke="#26241a" stroke-width="1.4" fill="none" stroke-linecap="round" stroke-linejoin="round" />
<path d="M335.7,789.1 L335.7,903 L109.8,903" stroke="#26241a" stroke-width="2.7" fill="none" stroke-linecap="round" stroke-linejoin="round" />
<path d="M120.8,891.4 L120.8,800.2 L323.7,800.2" stroke="#26241a" stroke-width="3.1" fill="none" stroke-linecap="round" stroke-linejoin="round" />
<path d="M323.7,800.2 L323.7,891.4 L120.8,891.4" stroke="#26241a" stroke-width="1.4" fill="none" stroke-linecap="round" stroke-linejoin="round" />
<rect x="153.8" y="812.0" width="24" height="11" fill="#f7efbd" stroke="#26241a" stroke-width="2.2"/>
<path d="M164.8,812.0 L164.8,823.0 M166.8,812.0 L166.8,823.0" stroke="#26241a" stroke-width="0.9" fill="none" stroke-linecap="round" stroke-linejoin="round" />
<rect x="153.8" y="868.0" width="24" height="11" fill="#f7efbd" stroke="#26241a" stroke-width="2.2"/>
<path d="M164.8,868.0 L164.8,879.0 M166.8,868.0 L166.8,879.0" stroke="#26241a" stroke-width="0.9" fill="none" stroke-linecap="round" stroke-linejoin="round" />
<rect x="210.5" y="812.0" width="24" height="11" fill="#f7efbd" stroke="#26241a" stroke-width="2.2"/>
<path d="M221.5,812.0 L221.5,823.0 M223.5,812.0 L223.5,823.0" stroke="#26241a" stroke-width="0.9" fill="none" stroke-linecap="round" stroke-linejoin="round" />
<rect x="210.5" y="868.0" width="24" height="11" fill="#f7efbd" stroke="#26241a" stroke-width="2.2"/>
<path d="M221.5,868.0 L221.5,879.0 M223.5,868.0 L223.5,879.0" stroke="#26241a" stroke-width="0.9" fill="none" stroke-linecap="round" stroke-linejoin="round" />
<rect x="267.5" y="812.0" width="24" height="11" fill="#f7efbd" stroke="#26241a" stroke-width="2.2"/>
<path d="M278.5,812.0 L278.5,823.0 M280.5,812.0 L280.5,823.0" stroke="#26241a" stroke-width="0.9" fill="none" stroke-linecap="round" stroke-linejoin="round" />
<rect x="267.5" y="868.0" width="24" height="11" fill="#f7efbd" stroke="#26241a" stroke-width="2.2"/>
<path d="M278.5,868.0 L278.5,879.0 M280.5,868.0 L280.5,879.0" stroke="#26241a" stroke-width="0.9" fill="none" stroke-linecap="round" stroke-linejoin="round" />
<rect x="130.7" y="833.55" width="11" height="24.5" fill="#f7efbd" stroke="#26241a" stroke-width="2.2"/>
<path d="M130.7,844.8 L141.7,844.8 M130.7,846.8 L141.7,846.8" stroke="#26241a" stroke-width="0.9" fill="none" stroke-linecap="round" stroke-linejoin="round" />
<rect x="188.1" y="833.55" width="11" height="24.5" fill="#f7efbd" stroke="#26241a" stroke-width="2.2"/>
<path d="M188.1,844.8 L199.1,844.8 M188.1,846.8 L199.1,846.8" stroke="#26241a" stroke-width="0.9" fill="none" stroke-linecap="round" stroke-linejoin="round" />
<rect x="245.0" y="833.55" width="11" height="24.5" fill="#f7efbd" stroke="#26241a" stroke-width="2.2"/>
<path d="M245.0,844.8 L256.0,844.8 M245.0,846.8 L256.0,846.8" stroke="#26241a" stroke-width="0.9" fill="none" stroke-linecap="round" stroke-linejoin="round" />
<rect x="302.0" y="833.55" width="11" height="24.5" fill="#f7efbd" stroke="#26241a" stroke-width="2.2"/>
<path d="M302.0,844.8 L313.0,844.8 M302.0,846.8 L313.0,846.8" stroke="#26241a" stroke-width="0.9" fill="none" stroke-linecap="round" stroke-linejoin="round" />
<text x="139.5" y="767.3" font-family="Liberation Sans" font-size="18" font-weight="normal" font-style="normal" fill="#26241a" text-anchor="start" textLength="14.5" lengthAdjust="spacingAndGlyphs" stroke="#26241a" stroke-width="0.5" stroke-linejoin="round" >11</text>
<path d="M158.3,763.1 Q163,770 162.5,792.4" stroke="#26241a" stroke-width="1.3" fill="none" stroke-linecap="round" stroke-linejoin="round" />
<text x="221" y="779.8" font-family="Liberation Sans" font-size="18" font-weight="normal" font-style="normal" fill="#26241a" text-anchor="start" textLength="10.5" lengthAdjust="spacingAndGlyphs" stroke="#26241a" stroke-width="0.5" stroke-linejoin="round" >6</text>
<path d="M231.5,775.6 Q237,780 235.7,792.4" stroke="#26241a" stroke-width="1.3" fill="none" stroke-linecap="round" stroke-linejoin="round" />
<path d="M232,787 L235.7,793 L239,787" stroke="#26241a" stroke-width="1.5" fill="none" stroke-linecap="round" stroke-linejoin="round" />
<text x="290" y="773.5" font-family="Liberation Sans" font-size="18" font-weight="normal" font-style="normal" fill="#26241a" text-anchor="start" textLength="16.8" lengthAdjust="spacingAndGlyphs" stroke="#26241a" stroke-width="0.5" stroke-linejoin="round" >18</text>
<path d="M300.5,775.6 Q290,795 277.5,812" stroke="#26241a" stroke-width="1.3" fill="none" stroke-linecap="round" stroke-linejoin="round" />
<text x="66.3" y="815.4" font-family="Liberation Sans" font-size="18" font-weight="normal" font-style="normal" fill="#26241a" text-anchor="start" textLength="16.7" lengthAdjust="spacingAndGlyphs" stroke="#26241a" stroke-width="0.5" stroke-linejoin="round" >12</text>
<path d="M85.1,809.1 Q100,812 110.2,821.6" stroke="#26241a" stroke-width="1.3" fill="none" stroke-linecap="round" stroke-linejoin="round" />
<text x="357" y="817.5" font-family="Liberation Sans" font-size="18" font-weight="normal" font-style="normal" fill="#26241a" text-anchor="start" textLength="14.6" lengthAdjust="spacingAndGlyphs" stroke="#26241a" stroke-width="0.5" stroke-linejoin="round" >12</text>
<path d="M354.9,811.2 Q345,820 336,834" stroke="#26241a" stroke-width="1.3" fill="none" stroke-linecap="round" stroke-linejoin="round" />
<text x="350.7" y="855" font-family="Liberation Sans" font-size="18" font-weight="normal" font-style="normal" fill="#26241a" text-anchor="start" textLength="20.9" lengthAdjust="spacingAndGlyphs" stroke="#26241a" stroke-width="0.5" stroke-linejoin="round" >25</text>
<path d="M348.6,848.8 Q330,852 313,851" stroke="#26241a" stroke-width="1.3" fill="none" stroke-linecap="round" stroke-linejoin="round" />
<text x="152" y="926.2" font-family="Liberation Sans" font-size="18" font-weight="normal" font-style="normal" fill="#26241a" text-anchor="start" textLength="16.7" lengthAdjust="spacingAndGlyphs" stroke="#26241a" stroke-width="0.5" stroke-linejoin="round" >21</text>
<path d="M147.8,911.6 Q143,895 139.5,880.2 M166.6,911.6 Q172,895 181.3,880.2" stroke="#26241a" stroke-width="1.3" fill="none" stroke-linecap="round" stroke-linejoin="round" />
<text x="235.7" y="926.2" font-family="Liberation Sans" font-size="18" font-weight="normal" font-style="normal" fill="#26241a" text-anchor="start" textLength="23.0" lengthAdjust="spacingAndGlyphs" stroke="#26241a" stroke-width="0.5" stroke-linejoin="round" >25</text>
<path d="M239.8,911.6 Q233,890 227.3,879 M256.6,911.6 Q262,895 271.2,880.2" stroke="#26241a" stroke-width="1.3" fill="none" stroke-linecap="round" stroke-linejoin="round" />
<text x="279.6" y="934.6" font-family="Liberation Sans" font-size="18" font-weight="normal" font-style="normal" fill="#26241a" text-anchor="start" textLength="16.7" lengthAdjust="spacingAndGlyphs" stroke="#26241a" stroke-width="0.5" stroke-linejoin="round" >18</text>
<path d="M288,920 Q287,900 285.8,879" stroke="#26241a" stroke-width="1.3" fill="none" stroke-linecap="round" stroke-linejoin="round" />
<polygon points="478,838.7 525.5,863 525.5,933.4 478,907.7" fill="#f7efbd" stroke="#26241a" stroke-width="1.3"/>
<polygon points="625.6,864.3 673,840 673,907.7 625.6,933.4" fill="url(#wavyd)" stroke="#26241a" stroke-width="1.3"/>
<polygon points="662,845.5 673,840 673,907.7 662,913.5" fill="#f7efbd" stroke="none"/>
<path d="M673,840 L673,907.7 L625.6,933.4" stroke="#26241a" stroke-width="1.5" fill="none" stroke-linecap="round" stroke-linejoin="round" />
<polygon points="478,838.7 574,782.5 673,840 625.6,864.3 575,836 525.5,863" fill="#f7efbd" stroke="#26241a" stroke-width="1.2"/>
<polygon points="588,845 612,832 668,842 627,862" fill="url(#hlines)"/>
<polygon points="527,845 553,835 560,842 556,846 528,861" fill="url(#hlines)"/>
<polygon points="585,808 600,800 612,818 598,826" fill="url(#hlines)"/>
<polygon points="525.5,863 556,846 556,916 525.5,933.4" fill="#f7efbd" stroke="#26241a" stroke-width="1.1"/>
<polygon points="537,866 553,857 553,872 537,882" fill="url(#wavyd)"/>
<polygon points="525.5,863 538,856 538,927 525.5,933.4" fill="url(#hatch)" stroke="#26241a" stroke-width="1.3"/>
<polygon points="525.5,863 556,846 556,853 538,864" fill="url(#hatch)" stroke="#26241a" stroke-width="1.1"/>
<polygon points="594,845 625.6,864.3 625.6,933.4 594,916" fill="#f7efbd" stroke="#26241a" stroke-width="1.1"/>
<polygon points="613,857 625.6,864.3 625.6,933.4 613,926.5" fill="url(#hatch)" stroke="#26241a" stroke-width="1.3"/>
<polygon points="594,845 625.6,864.3 618,866 596,853" fill="url(#hatch)" stroke="#26241a" stroke-width="1.1"/>
<path d="M553,916 L553,838 Q553,829 575,829 Q598,829 598,838 L598,916 Q592,920 587,915 L587,899 Q576,892 564,899 L564,915 Q558,920 553,916 Z" fill="url(#wavyd)" stroke="#26241a" stroke-width="1.4"/>
<path d="M576,838 L587,838 L587,897 Q582,894 576,894 Z" fill="#f7efbd" stroke="none"/>
<rect x="553" y="836" width="6" height="80" fill="url(#hatch)" opacity="0.85"/>
<rect x="591" y="836" width="7" height="80" fill="url(#hatch)" opacity="0.85"/>
<path d="M556.7,795.3 L556.7,813 A17.5,10 0 0 0 591.7,813 L591.7,795.3 Z" fill="url(#wavyd)" stroke="#26241a" stroke-width="1.4"/>
<path d="M557.4000000000001,795.3 L557.4000000000001,813 A17.5,10 0 0 0 576.825,822.3 L576.825,805.3 Z" fill="#f7efbd" stroke="none"/>
<ellipse cx="574.2" cy="795.3" rx="17.5" ry="10" fill="#f7efbd" stroke="#26241a" stroke-width="1.5"/>
<path d="M508.0,823.7 L508.0,841 A17.5,10 0 0 0 543.0,841 L543.0,823.7 Z" fill="url(#wavyd)" stroke="#26241a" stroke-width="1.4"/>
<path d="M508.7,823.7 L508.7,841 A17.5,10 0 0 0 528.125,850.3 L528.125,833.7 Z" fill="#f7efbd" stroke="none"/>
<ellipse cx="525.5" cy="823.7" rx="17.5" ry="10" fill="#f7efbd" stroke="#26241a" stroke-width="1.5"/>
<path d="M606.8,825 L606.8,843 A17.5,10 0 0 0 641.8,843 L641.8,825 Z" fill="url(#wavyd)" stroke="#26241a" stroke-width="1.4"/>
<path d="M607.5,825 L607.5,843 A17.5,10 0 0 0 626.925,852.3 L626.925,835 Z" fill="#f7efbd" stroke="none"/>
<ellipse cx="624.3" cy="825" rx="17.5" ry="10" fill="#f7efbd" stroke="#26241a" stroke-width="1.5"/>
<path d="M478,838.7 L525.5,863 L556,846" stroke="#26241a" stroke-width="2.4" fill="none" stroke-linecap="round" stroke-linejoin="round" />
<path d="M594,845 L625.6,864.3 L673,840" stroke="#26241a" stroke-width="2.4" fill="none" stroke-linecap="round" stroke-linejoin="round" />
<path d="M525.5,863 L525.5,933.4 M625.6,864.3 L625.6,933.4" stroke="#26241a" stroke-width="1.8" fill="none" stroke-linecap="round" stroke-linejoin="round" />
<text x="499" y="798" font-family="Liberation Sans" font-size="18" font-weight="normal" font-style="normal" fill="#26241a" text-anchor="start" textLength="21" lengthAdjust="spacingAndGlyphs" stroke="#26241a" stroke-width="0.5" stroke-linejoin="round" >27</text>
<path d="M522,792 Q545,794 556,812 Q560,822 562,830" stroke="#26241a" stroke-width="1.3" fill="none" stroke-linecap="round" stroke-linejoin="round" />
<text x="471.4" y="818.3" font-family="Liberation Sans" font-size="18" font-weight="normal" font-style="normal" fill="#26241a" text-anchor="start" textLength="17.6" lengthAdjust="spacingAndGlyphs" stroke="#26241a" stroke-width="0.5" stroke-linejoin="round" >21</text>
<path d="M491,811 Q505,811 518,820" stroke="#26241a" stroke-width="1.3" fill="none" stroke-linecap="round" stroke-linejoin="round" />
<text x="629.7" y="798" font-family="Liberation Sans" font-size="18" font-weight="normal" font-style="normal" fill="#26241a" text-anchor="start" textLength="20.3" lengthAdjust="spacingAndGlyphs" stroke="#26241a" stroke-width="0.5" stroke-linejoin="round" >10</text>
<path d="M628,792 Q612,794 603,806" stroke="#26241a" stroke-width="1.3" fill="none" stroke-linecap="round" stroke-linejoin="round" />
<text x="663.5" y="813" font-family="Liberation Sans" font-size="18" font-weight="normal" font-style="normal" fill="#26241a" text-anchor="start" textLength="17.5" lengthAdjust="spacingAndGlyphs" stroke="#26241a" stroke-width="0.5" stroke-linejoin="round" >21</text>
<path d="M662,807 Q645,810 634,823" stroke="#26241a" stroke-width="1.3" fill="none" stroke-linecap="round" stroke-linejoin="round" />
<text x="441" y="886.5" font-family="Liberation Sans" font-size="18" font-weight="normal" font-style="normal" fill="#26241a" text-anchor="start" textLength="10.4" lengthAdjust="spacingAndGlyphs" stroke="#26241a" stroke-width="0.5" stroke-linejoin="round" >7</text>
<path d="M455.5,882.3 Q475,880 497.4,867.6" stroke="#26241a" stroke-width="1.3" fill="none" stroke-linecap="round" stroke-linejoin="round" />
<path d="M490,867 L497.4,867.6 L493,873.5" stroke="#26241a" stroke-width="1.5" fill="none" stroke-linecap="round" stroke-linejoin="round" />
<text x="472.7" y="944" font-family="Liberation Sans" font-size="18" font-weight="normal" font-style="normal" fill="#26241a" text-anchor="start" textLength="14.9" lengthAdjust="spacingAndGlyphs" stroke="#26241a" stroke-width="0.5" stroke-linejoin="round" >12</text>
<path d="M489,932 Q493,915 501.6,907.4" stroke="#26241a" stroke-width="1.3" fill="none" stroke-linecap="round" stroke-linejoin="round" />
<text x="560.7" y="940" font-family="Liberation Sans" font-size="18" font-weight="normal" font-style="normal" fill="#26241a" text-anchor="start" textLength="20.3" lengthAdjust="spacingAndGlyphs" stroke="#26241a" stroke-width="0.5" stroke-linejoin="round" >22</text>
<path d="M585,928 Q588,915 591.5,905.3" stroke="#26241a" stroke-width="1.3" fill="none" stroke-linecap="round" stroke-linejoin="round" />
<text x="670" y="944" font-family="Liberation Sans" font-size="18" font-weight="normal" font-style="normal" fill="#26241a" text-anchor="start" textLength="11" lengthAdjust="spacingAndGlyphs" stroke="#26241a" stroke-width="0.5" stroke-linejoin="round" >11</text>
<path d="M670,933 Q660,925 654.2,907.4" stroke="#26241a" stroke-width="1.3" fill="none" stroke-linecap="round" stroke-linejoin="round" />
</g>
<text x="658" y="1089.2" font-family="Liberation Serif" font-size="14.5" font-weight="normal" font-style="normal" fill="#26241a" text-anchor="start" textLength="79" lengthAdjust="spacing" stroke="#26241a" stroke-width="0.25" stroke-linejoin="round" >INVENTOR</text>
<text x="438" y="1124.8" font-family="Liberation Sans" font-size="20" font-weight="normal" font-style="normal" fill="#26241a" text-anchor="start" textLength="287" lengthAdjust="spacing" stroke="#26241a" stroke-width="0.7" stroke-linejoin="round" >Godtfred Kirk Christiansen</text>
<text x="430.5" y="1179.7" font-family="Liberation Serif" font-size="13.5" font-weight="normal" font-style="normal" fill="#26241a" text-anchor="start" textLength="15.5" lengthAdjust="spacingAndGlyphs" stroke="#26241a" stroke-width="0.2" stroke-linejoin="round" >BY</text>
<g transform="translate(427,1199) skewX(-12)">
<text x="0" y="0" font-family="Liberation Serif" font-size="24" font-weight="normal" font-style="italic" fill="#26241a" text-anchor="start" textLength="319" lengthAdjust="spacingAndGlyphs" opacity="0.8">Stevens, Davis, Miller &amp; Mosher</text>
</g>
<text x="656" y="1218.6" font-family="Liberation Serif" font-size="14.5" font-weight="normal" font-style="normal" fill="#26241a" text-anchor="start" textLength="91" lengthAdjust="spacing" stroke="#26241a" stroke-width="0.25" stroke-linejoin="round" >ATTORNEYS</text>
</svg>
</body></html>
